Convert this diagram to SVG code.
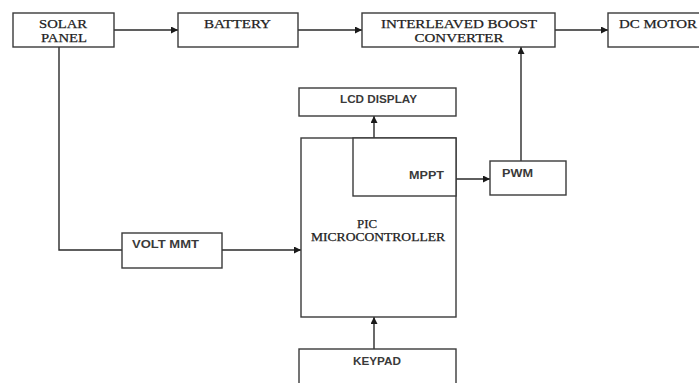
<svg xmlns="http://www.w3.org/2000/svg" width="699" height="383" viewBox="0 0 699 383">
<defs>
<marker id="ah" viewBox="0 0 10 10" refX="10" refY="5" markerWidth="7" markerHeight="7" markerUnits="userSpaceOnUse" orient="auto">
<path d="M0,0 L10,5 L0,10 z" fill="#1a1a1a"/>
</marker>
<style>
.box{fill:#fff;stroke:#3a3a3a;stroke-width:1.4}
.ln{fill:none;stroke:#2a2a2a;stroke-width:1.4}
.arr{fill:none;stroke:#2a2a2a;stroke-width:1.4;marker-end:url(#ah)}
.sf{font-family:"Liberation Serif","Times New Roman",serif;font-size:13px;fill:#222;stroke:#222;stroke-width:0.25;text-anchor:middle}
.sm{font-size:12px}
.ss{font-family:"Liberation Sans",Arial,sans-serif;font-size:11px;font-weight:bold;fill:#3a3a3a;text-anchor:middle}
</style>
</defs>
<rect width="699" height="383" fill="#fff"/>
<g id="connectors">
<line class="arr" x1="114" y1="30" x2="178" y2="30"/>
<line class="arr" x1="298" y1="30" x2="362" y2="30"/>
<line class="arr" x1="555" y1="30" x2="608" y2="30"/>
<polyline class="ln" points="59,47 59,250 122,250"/>
<line class="arr" x1="222" y1="250" x2="301" y2="250"/>
<line class="arr" x1="374" y1="349" x2="374" y2="317"/>
<line class="arr" x1="374" y1="138" x2="374" y2="116"/>
<line class="arr" x1="456" y1="179" x2="490" y2="179"/>
<line class="arr" x1="521" y1="161" x2="521" y2="47"/>
</g>
<g id="solar">
<rect class="box" x="13" y="13" width="101" height="34"/>
<text class="sf" x="63" y="28" textLength="48" lengthAdjust="spacingAndGlyphs">SOLAR</text>
<text class="sf" x="64" y="42" textLength="46" lengthAdjust="spacingAndGlyphs">PANEL</text>
</g>
<g id="battery">
<rect class="box" x="178" y="13" width="120" height="34"/>
<text class="sf" x="237.5" y="28" textLength="67" lengthAdjust="spacingAndGlyphs">BATTERY</text>
</g>
<g id="ibc">
<rect class="box" x="362" y="13" width="193" height="34"/>
<text class="sf" x="459" y="27.5" textLength="156" lengthAdjust="spacingAndGlyphs">INTERLEAVED BOOST</text>
<text class="sf" x="459" y="41.5" textLength="89" lengthAdjust="spacingAndGlyphs">CONVERTER</text>
</g>
<g id="motor">
<rect class="box" x="608" y="13" width="96" height="34"/>
<text class="sf" x="658" y="27.5" textLength="78" lengthAdjust="spacingAndGlyphs">DC MOTOR</text>
</g>
<g id="lcd">
<rect class="box" x="299" y="88" width="157" height="28"/>
<text class="ss" x="378.5" y="103" textLength="77" lengthAdjust="spacingAndGlyphs">LCD DISPLAY</text>
</g>
<g id="pic">
<rect class="box" x="301" y="138" width="155" height="179"/>
<text class="sf sm" x="367" y="227.5" textLength="20" lengthAdjust="spacingAndGlyphs">PIC</text>
<text class="sf sm" x="378" y="241" textLength="134" lengthAdjust="spacingAndGlyphs">MICROCONTROLLER</text>
</g>
<g id="mppt">
<rect class="box" x="353" y="138" width="103" height="58"/>
<text class="ss" x="426.5" y="178.5" textLength="35" lengthAdjust="spacingAndGlyphs">MPPT</text>
</g>
<g id="pwm">
<rect class="box" x="490" y="161" width="76" height="34"/>
<text class="ss" x="517.5" y="176.5" textLength="31" lengthAdjust="spacingAndGlyphs">PWM</text>
</g>
<g id="volt">
<rect class="box" x="122" y="233" width="100" height="35"/>
<text class="ss" x="165.5" y="248" textLength="67" lengthAdjust="spacingAndGlyphs">VOLT MMT</text>
</g>
<g id="keypad">
<rect class="box" x="299" y="349" width="157" height="40"/>
<text class="ss" x="377" y="364.5" textLength="48" lengthAdjust="spacingAndGlyphs">KEYPAD</text>
</g>
</svg>
